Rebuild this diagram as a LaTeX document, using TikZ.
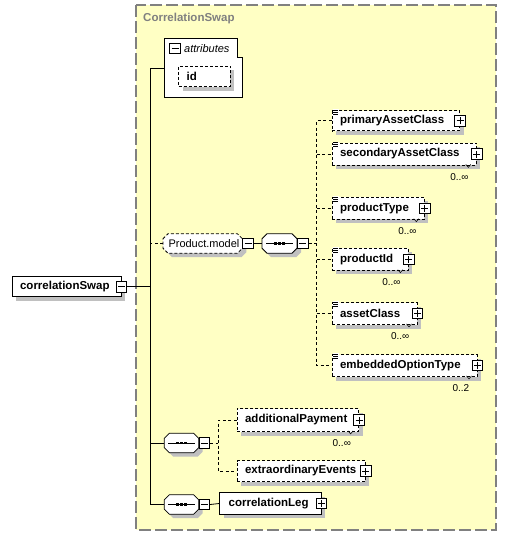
\documentclass[tikz,border=0pt]{standalone}
\usepackage{fontspec}
\newfontfamily\ef{Liberation Sans}
\usetikzlibrary{shadows,calc}
\definecolor{bgy}{HTML}{FFFFC4}
\definecolor{shadowgray}{HTML}{C0C0C0}
\definecolor{brd}{HTML}{808080}
\pgfdeclarelayer{back}
\pgfdeclarelayer{mid}
\pgfsetlayers{back,mid,main}
\newcommand\et[3]{\hbox to #1pt{\hskip#2pt #3\hfil}}
\newcommand\chpath[2]{([shift={(#2,#2+5)}]#1.north west) -- ([shift={(#2+5,#2)}]#1.north west) -- ([shift={(#2-5,#2)}]#1.north east) -- ([shift={(#2,#2+5)}]#1.north east) -- ([shift={(#2,#2-5)}]#1.south east) -- ([shift={(#2-5,#2)}]#1.south east) -- ([shift={(#2+5,#2)}]#1.south west) -- ([shift={(#2,#2-5)}]#1.south west) -- cycle}
\newcommand\grpshape[2][]{%
  \begin{pgfonlayer}{mid}
    \fill[shadowgray] \chpath{#2}{4};
    \draw[fill=white,line width=0.8pt,#1] \chpath{#2}{0};
  \end{pgfonlayer}}
\newcommand\seqsym[1]{%
  \draw[line width=0.8pt] ([xshift=4pt]#1.west) -- ([xshift=-4pt]#1.east);
  \foreach \d in {-4,0,4}{\fill ([shift={(\d-1.3,-1.3)}]#1.center) rectangle +(2.6,2.6);}}
\newcommand\docic[1]{%
  \fill[white] ([shift={(1,-1)}]#1.north west) rectangle +(6,6);
  \foreach \d in {0,2,4}{\draw[line width=0.6pt] ([shift={(1.5,\d)}]#1.north west) -- +(5,0);}}
\newcommand\vmark[1]{%
  \draw[line width=0.5pt] ([shift={(-11,-1)}]#1.south east) -- ([shift={(-8.5,2)}]#1.south east) -- ([shift={(-6,-1)}]#1.south east);}
\begin{document}
\begin{tikzpicture}[x=1pt,y=-1pt,
  shadowed/.style={general shadow={shadow xshift=4pt,shadow yshift=-4pt,fill=shadowgray}},
  elem/.style={draw,fill=white,anchor=west,inner sep=0pt,minimum height=#1,
    font=\ef\bfseries\fontsize{11.5}{13}\selectfont,shadowed,line width=0.8pt},
  edash/.style={dash pattern=on 3pt off 2pt},
  pmbox/.style={draw,fill=white,minimum size=10.5pt,inner sep=0pt,line width=0.9pt},
  plusbox/.style={pmbox,path picture={\draw[line width=0.8pt]
     ([xshift=-3.5pt]path picture bounding box.center) -- ([xshift=3.5pt]path picture bounding box.center)
     ([yshift=-3.5pt]path picture bounding box.center) -- ([yshift=3.5pt]path picture bounding box.center);}},
  minusbox/.style={pmbox,path picture={\draw[line width=0.8pt]
     ([xshift=-3.5pt]path picture bounding box.center) -- ([xshift=3.5pt]path picture bounding box.center);}},
  grp/.style={anchor=west,inner sep=0pt,minimum height=19pt,font=\ef\fontsize{11}{13}\selectfont},
  mult/.style={font=\ef\fontsize{10}{12}\selectfont,anchor=east,inner sep=0pt},
  conn/.style={line width=0.8pt},
  dconn/.style={line width=0.8pt,dash pattern=on 3pt off 2.5pt},
]
\useasboundingbox (0,0) rectangle (506,536);
\begin{pgfonlayer}{back}
  \draw[fill=bgy,draw=brd,line width=1.2pt,dash pattern=on 12pt off 4pt] (136,5) rectangle (496,530);
\end{pgfonlayer}
\node[anchor=west,inner sep=0pt,text=brd,font=\ef\bfseries\fontsize{11.5}{13}\selectfont] (title) at (143,19) {CorrelationSwap};

% attributes
\draw[fill=white,line width=0.8pt] (164,38) -- (237,38) -- (237,57) -- (242,57) -- (242,97) -- (164,97) -- cycle;
\node[minusbox] (attrm) at (175,48.5) {};
\node[anchor=west,inner sep=0pt,font=\ef\itshape\fontsize{11}{13}\selectfont] (attrt) at (184,48.5) {attributes};
\node[elem=20.7pt,edash] (id) at (178.3,76.3) {\et{51.7}{8}{id}};
\coordinate (attrL) at (164,68);

% root
\node[elem=20pt] (cs) at (11.7,286.7) {\et{109}{8}{correlationSwap}};
\node[minusbox] (csm) at (cs.east) {};

% Product.model group
\node[grp] (pmodel) at (163,243.5) {\et{79}{5.3}{Product.model}};
\grpshape[dash pattern=on 3pt off 2pt]{pmodel}
\node[minusbox,anchor=west] (pmm) at (pmodel.east) {};
\node[grp] (s1) at (262,243.5) {\et{34.7}{0}{}};
\grpshape{s1}
\seqsym{s1}
\node[minusbox,anchor=west] (s1m) at (s1.east) {};

% children of first sequence
\node[elem=20pt,edash] (pac) at (331.7,120.8) {\et{127.6}{8}{primaryAssetClass}};
\node[plusbox] (pacp) at (pac.east) {};
\node[elem=22pt,edash] (sac) at (331.7,154) {\et{144.3}{8}{secondaryAssetClass}};
\node[plusbox] (sacp) at (sac.east) {};
\node[elem=22pt,edash] (pt) at (331.7,208.3) {\et{92.3}{8}{productType}};
\node[plusbox] (ptp) at (pt.east) {};
\node[elem=22pt,edash] (pid) at (331.7,259.3) {\et{76.3}{8}{productId}};
\node[plusbox] (pidp) at (pid.east) {};
\node[elem=22pt,edash] (ac) at (331.7,313.5) {\et{85}{8}{assetClass}};
\node[plusbox] (acp) at (ac.east) {};
\node[elem=22pt,edash] (eot) at (331.7,365.5) {\et{145}{8}{embeddedOptionType}};
\node[plusbox] (eotp) at (eot.east) {};
\foreach \n in {pac,sac,pt,pid,ac,eot}{\docic{\n}}
\foreach \n in {sac,pt,pid,ac,eot}{\vmark{\n}}
\node[mult] (m1) at ($(sac.south east)+(-8,11.5)$) {0..∞};
\node[mult] (m2) at ($(pt.south east)+(-8,11.5)$) {0..∞};
\node[mult] (m3) at ($(pid.south east)+(-8,11.5)$) {0..∞};
\node[mult] (m4) at ($(ac.south east)+(-8,11.5)$) {0..∞};
\node[mult] (m5) at ($(eot.south east)+(-8,11.5)$) {0..2};

% second sequence
\node[grp] (s2) at (164.3,443) {\et{34}{0}{}};
\grpshape{s2}
\seqsym{s2}
\node[minusbox,anchor=west] (s2m) at (s2.east) {};
\node[elem=23pt,edash] (ap) at (236.7,420) {\et{121.6}{8}{additionalPayment}};
\node[plusbox] (app) at (ap.east) {};
\vmark{ap}
\node[mult] (m6) at ($(ap.south east)+(-8,11)$) {0..∞};
\node[elem=21pt,edash] (ee) at (236.7,471) {\et{128.3}{8}{extraordinaryEvents}};
\node[plusbox] (eep) at (ee.east) {};

% third sequence
\node[grp] (s3) at (164.3,504.5) {\et{34}{0}{}};
\grpshape{s3}
\seqsym{s3}
\node[minusbox,anchor=west] (s3m) at (s3.east) {};
\node[elem=21.3pt] (cl) at (219.3,503.5) {\et{101.4}{9}{correlationLeg}};
\node[plusbox] (clp) at (cl.east) {};

% connectors
\coordinate (trunk) at (150,0);
\coordinate (br1) at (316.5,0);
\coordinate (br2) at (218.3,0);
\draw[conn] (csm.east) -- (csm.east -| trunk);
\draw[conn] (attrL) -| (trunk |- s3.west) -- (s3.west);
\draw[conn] (s2.west) -- (trunk |- s2.west);
\draw[dconn] (pmodel.west) -- (trunk |- pmodel.west);
\draw[conn] (pmm.east) -- (s1.west);
\draw[dconn] (s1m.east) -- (br1 |- s1m.east);
\draw[dconn] (pac.west) -| (br1 |- eot.west) -- (eot.west);
\foreach \n in {sac,pt,pid,ac}{\draw[dconn] (br1 |- \n.west) -- (\n.west);}
\draw[dconn] (s2m.east) -- (br2 |- s2m.east);
\draw[dconn] (ap.west) -| (br2 |- ee.west) -- (ee.west);
\draw[conn] (s3m.east) -- (cl.west);
\end{tikzpicture}
\end{document}
